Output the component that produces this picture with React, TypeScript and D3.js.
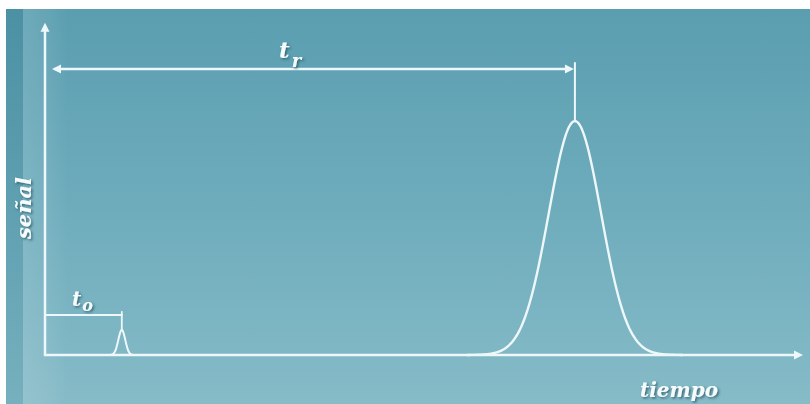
import React from "react";
import * as d3 from "d3";

// Chromatogram schematic: dead time t_o and retention time t_r
const peakTimes = [1.0, 6.9]; // t_o (unretained), t_r (retained)
const peakHeights = [0.107, 1.0];
const peakSigmas = [0.045, 0.34];
const peakSpans = [0.17, 1.4]; // half-range over which each peak is traced
const axisTimeMax = 9.87;
const axisSignalMax = 1.42;
const axisLabels = ["tiempo", "señal"];
const markerLabels = [
  { main: "t", sub: "o" },
  { main: "t", sub: "r" },
];

const W = 810;
const H = 404;
const x = d3.scaleLinear().domain([0, 10]).range([45, 813]);
const y = d3.scaleLinear().domain([0, 1]).range([355, 121]);

const LINE = "#eef8fa";
const FONT = "'DejaVu Serif', serif";

function peakPath(i: number): string {
  const t0 = peakTimes[i];
  const s = peakSigmas[i];
  const h = peakHeights[i];
  const pts = d3
    .range(0, 201)
    .map((k) => t0 - peakSpans[i] + (2 * peakSpans[i] * k) / 200)
    .map((t) => [t, h * Math.exp(-((t - t0) ** 2) / (2 * s * s))] as [number, number]);
  const line = d3
    .line<[number, number]>()
    .x((d) => x(d[0]))
    .y((d) => y(d[1]))
    .curve(d3.curveBasis);
  return line(pts) || "";
}

export default function App() {
  const x0 = x(0);
  const y0 = y(0);
  const xEnd = x(axisTimeMax);
  const yTop = y(axisSignalMax);
  const tO = x(peakTimes[0]);
  const tR = x(peakTimes[1]);
  const pO = y(peakHeights[0]);
  const pR = y(peakHeights[1]);
  const arrowY = 69;
  const bracketY = 315;

  return (
    <div style={{ position: "absolute", left: 0, top: 0 }}>
      <svg width={W} height={H} style={{ display: "block" }}>
        <defs>
          <linearGradient id="bg" x1="0" y1="0" x2="0" y2="1">
            <stop offset="0" stopColor="#5a9eb0" />
            <stop offset="0.5" stopColor="#6eacbc" />
            <stop offset="1" stopColor="#86bbc7" />
          </linearGradient>
          <linearGradient id="edge" x1="0" y1="0" x2="1" y2="0">
            <stop offset="0" stopColor="#ffffff" stopOpacity="0.12" />
            <stop offset="0.6" stopColor="#ffffff" stopOpacity="0.06" />
            <stop offset="1" stopColor="#ffffff" stopOpacity="0" />
          </linearGradient>
          <linearGradient id="strip" x1="0" y1="0" x2="0" y2="1">
            <stop offset="0" stopColor="#3f8599" stopOpacity="0.55" />
            <stop offset="1" stopColor="#5a9cad" stopOpacity="0.35" />
          </linearGradient>
          <filter id="shadow" x="-20%" y="-20%" width="140%" height="160%">
            <feDropShadow dx="1.5" dy="1.5" stdDeviation="0.9" floodColor="#2a5d6b" floodOpacity="0.85" />
          </filter>
        </defs>

        <rect x={6} y={9} width={W - 6} height={H - 9} fill="url(#bg)" />
        <rect x={23} y={9} width={45} height={H - 9} fill="url(#edge)" />
        <rect x={6} y={9} width={17} height={H - 9} fill="url(#strip)" />

        <g stroke={LINE} fill="none" strokeLinecap="round">
          {/* axes */}
          <line x1={x0} y1={y0} x2={x0} y2={yTop + 6} strokeWidth={2.5} />
          <line x1={x0} y1={y0} x2={xEnd - 6} y2={y0} strokeWidth={2.5} />

          {/* peaks */}
          <path d={peakPath(0)} strokeWidth={2} />
          <path d={peakPath(1)} strokeWidth={2.4} />

          {/* t_r dimension */}
          <line x1={x0 + 10} y1={arrowY} x2={tR - 8} y2={arrowY} strokeWidth={2.3} />
          <line x1={tR} y1={arrowY - 6} x2={tR} y2={pR} strokeWidth={2} />

          {/* t_o dimension */}
          <line x1={x0} y1={bracketY} x2={tO} y2={bracketY} strokeWidth={2} />
          <line x1={x0} y1={bracketY - 2} x2={x0} y2={bracketY + 2} strokeWidth={2} />
          <line x1={tO} y1={bracketY - 3} x2={tO} y2={pO} strokeWidth={1.8} />
        </g>

        <g fill={LINE}>
          <path d={`M${x0},${yTop} L${x0 - 4.5},${yTop + 9} L${x0 + 4.5},${yTop + 9} Z`} />
          <path d={`M${xEnd},${y0} L${xEnd - 9},${y0 - 4.5} L${xEnd - 9},${y0 + 4.5} Z`} />
          <path d={`M${x0 + 7},${arrowY} L${x0 + 16},${arrowY - 4.5} L${x0 + 16},${arrowY + 4.5} Z`} />
          <path d={`M${tR - 1},${arrowY} L${tR - 10},${arrowY - 4.5} L${tR - 10},${arrowY + 4.5} Z`} />
        </g>

        <g
          fill="#f6fcfd"
          fontFamily={FONT}
          fontWeight="bold"
          fontStyle="italic"
          filter="url(#shadow)"
        >
          <text x={279} y={58} fontSize={23}>
            {markerLabels[1].main}
            <tspan fontSize={18} dx={2} dy={9}>
              {markerLabels[1].sub}
            </tspan>
          </text>
          <text x={72} y={306} fontSize={20}>
            {markerLabels[0].main}
            <tspan fontSize={16} dx={1} dy={5}>
              {markerLabels[0].sub}
            </tspan>
          </text>
          <text x={640} y={397} fontSize={20}>
            {axisLabels[0]}
          </text>
          <text
            transform="translate(31,208) rotate(-90)"
            textAnchor="middle"
            fontSize={21}
          >
            {axisLabels[1]}
          </text>
        </g>
      </svg>
    </div>
  );
}
